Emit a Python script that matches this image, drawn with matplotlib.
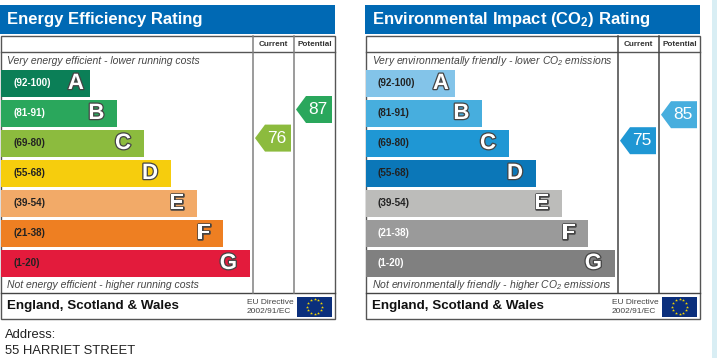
import numpy as np
import matplotlib
matplotlib.use("Agg")
import matplotlib.pyplot as plt
import matplotlib.patheffects as pe
from matplotlib.patches import Polygon, Rectangle

plt.rcParams['font.family'] = ['Liberation Sans', 'DejaVu Sans']
plt.rcParams['mathtext.default'] = 'regular'

letters = ['A', 'B', 'C', 'D', 'E', 'F', 'G']
ranges = ['(92-100)', '(81-91)', '(69-80)', '(55-68)', '(39-54)', '(21-38)', '(1-20)']
band_low = [92, 81, 69, 55, 39, 21, 1]
bar_len = [89, 116, 142.5, 169.5, 195.5, 222, 248.5]

energy_colors = ['#0b7f57', '#2aa75c', '#8cbb3e', '#f6cd0d', '#f2aa68', '#ee7f22', '#e31b3c']
energy_text = ['white', 'white', '#222222', '#222222', '#222222', '#222222', '#222222']
env_colors = ['#83c4e9', '#47aede', '#1f97d4', '#0b77b8', '#bcbcba', '#9a9a9a', '#808080']
env_text = ['#222222', '#222222', '#222222', '#222222', '#222222', 'white', 'white']

energy_scores = [76, 87]
env_scores = [75, 85]


def score_y(s):
    # arrows sit on a linear score scale, not on the bands
    return 109.5 + (87 - s) * 2.6


def panel(ax, x0, title, top_note, bottom_note, colors, text_cols, scores, col_color):
    ax.add_patch(Rectangle((x0, 5), 335, 28.5, fc='#0069b4', ec='none'))
    ax.text(x0 + 7, 19.5, title, color='white', fontsize=11.95, fontweight='bold', va='center')

    # frame
    ax.add_patch(Rectangle((x0 + 0.5, 35.5), 334, 283.5, fc='white', ec='#555555', lw=1))
    ax.plot([x0 + 0.5, x0 + 334.5], [52, 52], color='#555555', lw=1)
    ax.plot([x0 + 0.5, x0 + 334.5], [293, 293], color='#444444', lw=1)
    ax.plot([x0 + 252.5, x0 + 252.5], [35.5, 293], color=col_color, lw=1.1)
    ax.plot([x0 + 293.5, x0 + 293.5], [35.5, 293], color=col_color, lw=1.1)
    ax.text(x0 + 273, 44, 'Current', fontsize=5.9, fontweight='bold', color='#333333', ha='center', va='center')
    ax.text(x0 + 314.5, 44, 'Potential', fontsize=5.9, fontweight='bold', color='#333333', ha='center', va='center')

    ax.text(x0 + 7, 61.5, top_note, fontsize=7.45, style='italic', color='#444444', va='center')
    ax.text(x0 + 7, 285, bottom_note, fontsize=7.45, style='italic', color='#444444', va='center')

    for i, letter in enumerate(letters):
        y = 69.5 + i * 30
        ax.barh(y + 13.5, bar_len[i], height=27, left=x0 + 1, color=colors[i], edgecolor='none')
        ax.text(x0 + 13, y + 13.5, ranges[i], fontsize=7.1, fontweight='bold', color=text_cols[i], va='center')
        # A sits closer to its bar end than the other letters
        pad = 5 if i == 0 else 11.5
        ax.text(x0 + bar_len[i] - pad, y + 14, letter, fontsize=16, fontweight='bold', color='white',
                ha='right', va='center',
                path_effects=[pe.withStroke(linewidth=1.8, foreground='#444444')])

    # score arrows
    for j, s in enumerate(scores):
        band = next(k for k, low in enumerate(band_low) if s >= low)
        xr = x0 + (291 if j == 0 else 332)
        yc = score_y(s)
        pts = [(xr - 36, yc), (xr - 26, yc - 13.5), (xr, yc - 13.5), (xr, yc + 13.5), (xr - 26, yc + 13.5)]
        ax.add_patch(Polygon(pts, closed=True, fc=colors[band], ec='none'))
        ax.text(xr - 14.5, yc, str(s), color='white', fontsize=12.5, ha='center', va='center')

    # footer
    ax.text(x0 + 7, 306.5, 'England, Scotland & Wales', fontsize=9.6, fontweight='bold', color='#111111', va='center')
    ax.text(x0 + 247, 302, 'EU Directive', fontsize=6, color='#444444', va='center')
    ax.text(x0 + 247, 311.5, '2002/91/EC', fontsize=6, color='#444444', va='center')
    ax.add_patch(Rectangle((x0 + 297, 297), 35, 19.5, fc='#0b2f7c', ec='none'))
    ang = np.arange(12) * np.pi / 6
    ax.scatter(x0 + 314.5 + 7.5 * np.cos(ang), 306.5 + 7.5 * np.sin(ang), marker='*', s=5,
               color='#f4d500', linewidths=0, zorder=3)


fig = plt.figure(figsize=(7.17, 3.58), dpi=100)
ax = fig.add_axes([0, 0, 1, 1])
ax.set_xlim(0, 717)
ax.set_ylim(358, 0)
ax.axis('off')

# pale strip on the right edge of the page
ax.add_patch(Rectangle((712, 0), 5, 358, fc='#d9eef4', ec='none'))

panel(ax, 0, 'Energy Efficiency Rating',
      'Very energy efficient - lower running costs',
      'Not energy efficient - higher running costs',
      energy_colors, energy_text, energy_scores, '#808080')
panel(ax, 365, 'Environmental Impact (CO$_2$) Rating',
      'Very environmentally friendly - lower CO$_2$ emissions',
      'Not environmentally friendly - higher CO$_2$ emissions',
      env_colors, env_text, env_scores, '#444444')

ax.text(5, 338, 'Address:', fontsize=9.4, color='#222222', va='baseline')
ax.text(5, 354.5, '55 HARRIET STREET', fontsize=9.4, color='#222222', va='baseline')

fig.savefig('out.png', dpi=100)
